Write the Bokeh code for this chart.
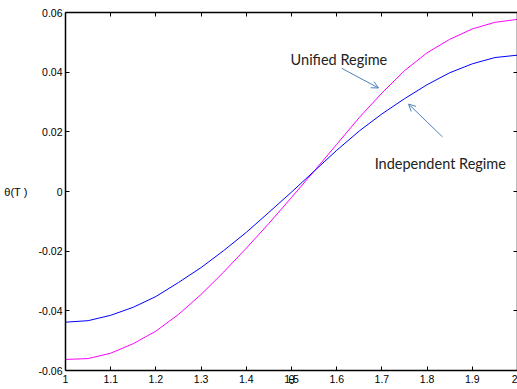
from bokeh.plotting import figure
from bokeh.models import Range1d, LinearAxis, FixedTicker, Label, Arrow, OpenHead
from bokeh.embed import file_html
from bokeh.resources import INLINE

theta = [1.00, 1.05, 1.10, 1.15, 1.20, 1.25, 1.30, 1.35, 1.40, 1.45, 1.50,
         1.55, 1.60, 1.65, 1.70, 1.75, 1.80, 1.85, 1.90, 1.95, 2.00]
unified = [-0.0563, -0.0560, -0.0542, -0.0510, -0.0468, -0.0412, -0.0345, -0.0270,
           -0.0190, -0.0107, -0.0020, 0.0068, 0.0158, 0.0248, 0.0330, 0.0405,
           0.0465, 0.0510, 0.0545, 0.0567, 0.0577]
independent = [-0.0438, -0.0433, -0.0415, -0.0388, -0.0352, -0.0305, -0.0255, -0.0198,
               -0.0137, -0.0070, -0.0002, 0.0068, 0.0138, 0.0203, 0.0260, 0.0311,
               0.0358, 0.0398, 0.0428, 0.0449, 0.0457]

x_ticks = [1.0, 1.1, 1.2, 1.3, 1.4, 1.5, 1.6, 1.7, 1.8, 1.9, 2.0]
x_tick_labels = ["1", "1.1", "1.2", "1.3", "1.4", "1.5", "1.6", "1.7", "1.8", "1.9", "2"]
y_ticks = [-0.06, -0.04, -0.02, 0.0, 0.02, 0.04, 0.06]
y_tick_labels = ["-0.06", "-0.04", "-0.02", "0", "0.02", "0.04", "0.06"]

p = figure(width=517, height=389, output_backend="svg", toolbar_location=None,
           x_range=Range1d(1, 2), y_range=Range1d(-0.06, 0.06),
           min_border_left=65, min_border_right=0, min_border_top=12, min_border_bottom=17)
p.xgrid.visible = False
p.ygrid.visible = False
p.outline_line_color = None
p.background_fill_color = "white"
p.border_fill_color = "white"

FONT = "Liberation Sans"

def style_axis(ax, ticks, labels, show_labels):
    ax.ticker = FixedTicker(ticks=ticks)
    ax.major_label_overrides = {t: l for t, l in zip(ticks, labels)}
    ax.minor_tick_line_color = None
    ax.major_tick_in = 4
    ax.major_tick_out = 0
    ax.axis_line_color = "black"
    ax.axis_line_width = 1.5
    ax.major_tick_line_color = "black"
    ax.major_label_text_font = FONT
    if show_labels:
        ax.major_label_text_color = "black"
        ax.major_label_text_font_size = "10.5px"
        ax.major_label_standoff = 4
    else:
        ax.major_label_text_color = None
        ax.major_label_text_font_size = "1px"
        ax.major_label_standoff = 0

style_axis(p.xaxis[0], x_ticks, x_tick_labels, True)
style_axis(p.yaxis[0], y_ticks, y_tick_labels, True)
p.yaxis[0].major_label_standoff = 3

# axis titles (as drawn in the reference: overlapping glyphs)
p.xaxis[0].axis_label = "θ"
p.xaxis[0].axis_label_text_font = FONT
p.xaxis[0].axis_label_text_font_style = "normal"
p.xaxis[0].axis_label_text_font_size = "12px"
p.xaxis[0].axis_label_text_color = "black"
p.xaxis[0].axis_label_standoff = -13

p.yaxis[0].axis_label = "θ(T )"
p.yaxis[0].axis_label_text_font = FONT
p.yaxis[0].axis_label_text_font_style = "normal"
p.yaxis[0].axis_label_text_font_size = "11px"
p.yaxis[0].axis_label_text_color = "black"
p.yaxis[0].axis_label_standoff = 8
try:
    p.yaxis[0].axis_label_orientation = "horizontal"
except Exception:
    pass

top = LinearAxis()
style_axis(top, x_ticks, x_tick_labels, False)
p.add_layout(top, "above")
right = LinearAxis()
style_axis(right, y_ticks, y_tick_labels, False)
p.add_layout(right, "right")

p.line(theta, unified, line_color="#ff00ff", line_width=1)
p.line(theta, independent, line_color="#0000ff", line_width=1)

ann_font = "Lato"
p.add_layout(Label(x=1.498, y=0.0443, text="Unified Regime", text_font=ann_font,
                   text_font_size="14.5px", text_color="#222222", text_baseline="alphabetic"))
p.add_layout(Label(x=1.684, y=0.0093, text="Independent Regime", text_font=ann_font,
                   text_font_size="14.5px", text_color="#222222", text_baseline="alphabetic"))

arrow_color = "#4f81bd"
p.add_layout(Arrow(x_start=1.611, y_start=0.0413, x_end=1.6925, y_end=0.0347,
                   line_color=arrow_color, line_width=1,
                   end=OpenHead(size=7, line_color=arrow_color, line_width=1)))
p.add_layout(Arrow(x_start=1.834, y_start=0.0183, x_end=1.759, y_end=0.0293,
                   line_color=arrow_color, line_width=1,
                   end=OpenHead(size=7, line_color=arrow_color, line_width=1)))

open("out.html", "w").write(file_html(p, INLINE))
